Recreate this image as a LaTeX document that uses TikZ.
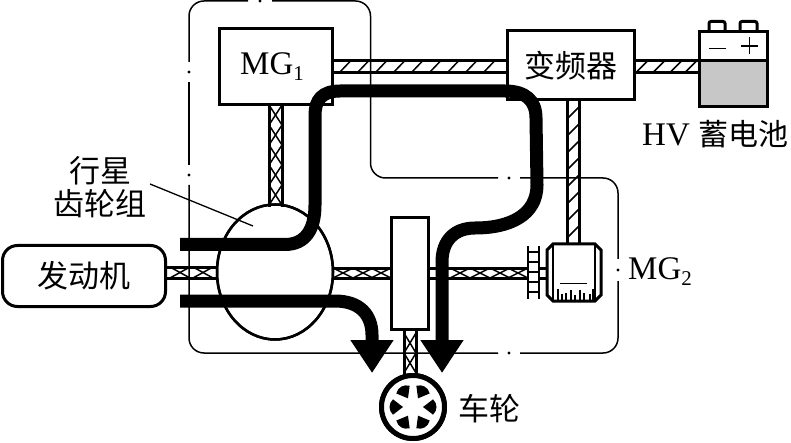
\documentclass[tikz,border=0pt]{standalone}
\usepackage{fontspec}
\setmainfont{Liberation Serif}
\newfontfamily\cjk{Noto Sans CJK SC}
\usetikzlibrary{arrows.meta,calc,shapes.geometric}
\newcommand{\bigfont}{\fontsize{31}{36}\selectfont}
\newcommand{\latfont}{\fontsize{33}{36}\selectfont}
\newcommand{\subsc}[1]{\raisebox{-6pt}{\fontsize{21}{21}\selectfont#1}}
\begin{document}
\begin{tikzpicture}[x=1pt,y=-1pt,
  boundary/.style={line width=1.5pt,rounded corners=15pt},
  boxnode/.style={draw,line width=3pt,fill=white,inner sep=0pt,outer sep=0pt,font=\bigfont},
  rail/.style={line width=3pt},
  hatchline/.style={line width=1.5pt},
  powerarrow/.style={line width=13pt,-{Triangle[length=33pt,width=41pt]}},
  txt/.style={inner sep=0pt,font=\bigfont}]
\useasboundingbox (0,0) rectangle (791,443);
% dash-dot enclosure
\draw[boundary] (189,62) -- (189,1) -- (248,1);
\draw[boundary] (272,1) -- (370.5,1) -- (370.5,178) -- (498,178);
\draw[boundary] (520,178) -- (618,178) -- (618,259);
\draw[boundary] (618,281) -- (618,353) -- (520,353);
\draw[boundary] (498,353) -- (189,353) -- (189,185);
\draw[boundary] (189,165) -- (189,82);
\foreach \p in {(189,72),(189,175),(260,1),(618,270),(509,178),(509,353)}
  \fill \p circle (1.6pt);
% main blocks
\node[boxnode,minimum width=113pt,minimum height=76pt] (mg1) at (276,67) {\latfont\kern-8pt MG\subsc{1}};
\node[boxnode,minimum width=127pt,minimum height=69pt] (inv) at (570.5,65.5) {\cjk 变频器};
\node[boxnode,rounded corners=15pt,minimum width=163pt,minimum height=61pt] (eng) at (84,276) {\cjk 发动机};
\node[draw,ellipse,line width=2.5pt,fill=white,inner sep=0pt,outer sep=0pt,minimum width=116pt,minimum height=135pt] (pg) at (275,272) {};
\node[boxnode,minimum width=37pt,minimum height=111pt] (gbox) at (409.5,273.5) {};
\node[inner sep=0pt,outer sep=0pt,minimum width=54pt,minimum height=57pt] (motor) at (574,272.5) {};
\node[draw,circle,line width=5pt,fill=white,inner sep=0pt,outer sep=0pt,minimum size=63pt] (wheel) at (413,407) {};
\node[draw,line width=3pt,fill=white,inner sep=0pt,outer sep=0pt,minimum width=68pt,minimum height=75pt] (bat) at (733,69.5) {};
% shaft MG1 -- inverter
\draw[rail] (mg1.east |- 0,60.5) -- (inv.west |- 0,60.5);
\draw[rail] (mg1.east |- 0,73) -- (inv.west |- 0,73);
\foreach \x in {345,363,...,500} \draw[hatchline] (\x-6,73) -- (\x+6,60.5);
% shaft inverter -- battery
\draw[rail] (inv.east |- 0,60.5) -- (bat.west |- 0,60.5);
\draw[rail] (inv.east |- 0,72.5) -- (bat.west |- 0,72.5);
\foreach \x in {642,659,676,691} \draw[hatchline] (\x-6,72.5) -- (\x+6,60.5);
% shaft inverter -- MG2
\draw[rail] (inv.south -| 567,0) -- (motor.north -| 567,0);
\draw[rail] (inv.south -| 579,0) -- (motor.north -| 579,0);
\foreach \y in {113,130,...,240} \draw[hatchline] (567,\y+6) -- (579,\y-6);
% shaft MG1 -- planetary
\draw[rail] (mg1.south -| 269,0) -- (269,207);
\draw[rail] (mg1.south -| 282,0) -- (282,207);
\foreach \y in {115,135,155,175,195} {
  \draw[hatchline] (269,\y-10) -- (282,\y+10);
  \draw[hatchline] (282,\y-10) -- (269,\y+10);}
% shaft engine -- planetary
\draw[rail] (eng.east |- 0,267) -- (pg.west |- 0,267);
\draw[rail] (eng.east |- 0,278) -- (pg.west |- 0,278);
\foreach \x in {180,203} {
  \draw[hatchline] (\x-10,278) -- (\x+10,267);
  \draw[hatchline] (\x+10,278) -- (\x-10,267);}
% shaft planetary -- gear box
\draw[rail] (pg.east |- 0,268) -- (gbox.west |- 0,268);
\draw[rail] (pg.east |- 0,278) -- (gbox.west |- 0,278);
\foreach \x in {343,363,381} {
  \draw[hatchline] (\x-10,268) -- (\x+10,278);
  \draw[hatchline] (\x+10,268) -- (\x-10,278);}
% shaft gear box -- reduction gear
\coordinate (gearL) at (528,272.5);
\draw[rail] (gbox.east |- 0,268) -- (gearL |- 0,268);
\draw[rail] (gbox.east |- 0,278) -- (gearL |- 0,278);
\foreach \x in {460,480,500,518} {
  \draw[hatchline] (\x-10,268) -- (\x+10,278);
  \draw[hatchline] (\x+10,268) -- (\x-10,278);}
% shaft gear box -- wheel
\draw[rail] (gbox.south -| 404,0) -- (404,378);
\draw[rail] (gbox.south -| 416,0) -- (416,378);
\foreach \y in {343,363} {
  \draw[hatchline] (404,\y-10) -- (416,\y+10);
  \draw[hatchline] (416,\y-10) -- (404,\y+10);}
% redraw outlines above the shaft ends
\node[draw,line width=3pt,inner sep=0pt,outer sep=0pt,minimum width=113pt,minimum height=76pt] at (mg1) {};
\node[draw,line width=3pt,inner sep=0pt,outer sep=0pt,minimum width=127pt,minimum height=69pt] at (inv) {};
\node[draw,ellipse,line width=2.5pt,inner sep=0pt,outer sep=0pt,minimum width=116pt,minimum height=135pt] at (pg) {};
\node[draw,circle,line width=5pt,fill=white,inner sep=0pt,outer sep=0pt,minimum size=63pt] at (wheel) {};
% battery
\fill[black!22] (bat.south west) rectangle (767,60.5);
\draw[line width=3pt] (bat.west |- 0,60.5) -- (bat.east |- 0,60.5);
\node[draw,line width=3pt,inner sep=0pt,outer sep=0pt,minimum width=68pt,minimum height=75pt] at (bat) {};
\draw[line width=3pt,rounded corners=2pt] (709,32) -- (709,21.5) -- (725,21.5) -- (725,32);
\draw[line width=3pt,rounded corners=2pt] (740,32) -- (740,21.5) -- (757,21.5) -- (757,32);
\draw[line width=1.3pt] (709,48.5) -- (726,48.5);
\draw[line width=1.8pt] (741,46) -- (758,46) (749.5,37.5) -- (749.5,54.5);
% reduction gear
\draw[line width=2.5pt] (528,246) -- (528,299) (539,246) -- (539,299);
\foreach \y in {252,262,272,282,292} \draw[line width=2pt] (528,\y) -- (539,\y);
\draw[rail] (539,268) -- (motor.west |- 0,268);
\draw[rail] (539,278) -- (motor.west |- 0,278);
% MG2 motor
\draw[line width=3pt,fill=white] (553,244) -- (595,244) -- (601,250) -- (601,295) -- (595,301) -- (553,301) -- (547,295) -- (547,250) -- cycle;
\draw[line width=2.5pt] (553,244) -- (553,301);
\draw[line width=2.5pt] (595,244) -- (595,301);
\draw[line width=1pt] (560,283) -- (587,283);
\foreach \x/\h in {558/11,562/6,566/7,571/10,575/5,580/10,584/7,590/6,593/11}
  \draw[line width=1.3pt] (\x,300) -- (\x,300-\h);
% wheel spokes
\foreach \a in {0,60,...,300}
  \fill ($(wheel)+(\a:10pt)$) -- ($(wheel)+(\a-21:21.5pt)$) -- ($(wheel)+(\a-10:23pt)$) -- ($(wheel)+(\a:23.5pt)$) -- ($(wheel)+(\a+10:23pt)$) -- ($(wheel)+(\a+21:21.5pt)$) -- cycle;
% leader
\coordinate (leaderA) at (150,184);
\coordinate (leaderB) at (253,226);
\draw[line width=1.3pt] (leaderA) -- (leaderB);
% power flows
\coordinate (flowA) at (180,244.5);
\coordinate (tipA) at (442,373);
\coordinate (flowB) at (180,301);
\coordinate (tipB) at (372,373);
\draw[powerarrow] (flowA) -- (285,244.5) .. controls (305,244.5) and (315,230) .. (315,205) -- (315,115) .. controls (315,100) and (322,91) .. (340,91) -- (505,91) .. controls (525,91) and (536,100) .. (536,118) -- (537,185) .. controls (537,215) and (510,228) .. (475,228) .. controls (455,228) and (442,240) .. (442,262) -- (tipA);
\draw[powerarrow] (flowB) -- (335,301) .. controls (360,301) and (372,315) .. (372,335) -- (tipB);
% labels
\node[txt,align=center] (pglabel) at (100,187) {\cjk 行星\\[-3pt]\cjk 齿轮组};
\node[txt,anchor=west] (hv) at (642,134) {{\latfont HV}\kern9pt{\fontsize{30}{36}\selectfont\cjk 蓄电池}};
\node[txt,anchor=west] (mg2) at (628,272) {\latfont MG\subsc{2}};
\node[txt,anchor=west] (wl) at (458,409) {\cjk 车轮};
\end{tikzpicture}
\end{document}
